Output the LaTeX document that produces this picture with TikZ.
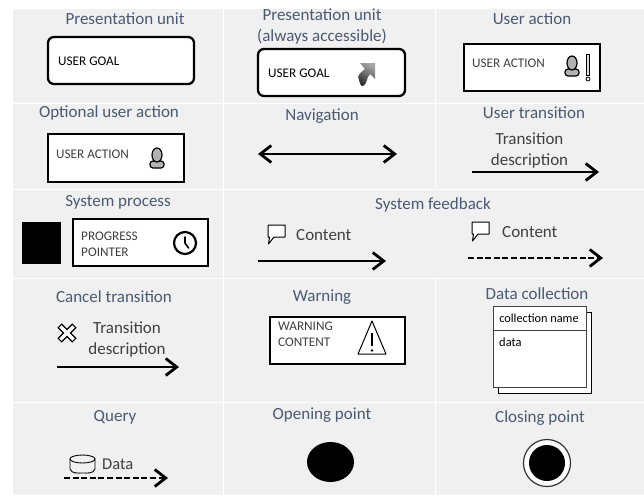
\documentclass[tikz,border=0pt]{standalone}
\usepackage{fontspec}
\setmainfont{Carlito}
\usetikzlibrary{arrows.meta}
\usetikzlibrary{positioning}
\usetikzlibrary{shapes.geometric}
\definecolor{cellgray}{HTML}{F0F0F0}
\definecolor{titleblue}{HTML}{4A5A72}
\definecolor{labelgray}{HTML}{404040}
\tikzset{
	person/.pic = {
			\draw[line width=1.2pt, fill=gray!60, rounded corners=3pt] (-7,10) -- (7,10) -- (7,3) -- (-7,3) -- cycle;
			\draw[line width=1.2pt, fill=gray!60] (0,-3) ellipse (5 and 7);
			},
	bubble/.pic = {
			\draw[line width=1pt, fill=white, line join=round] (0,0) -- (17,0) -- (17,12) -- (6,12) -- (0.5,19) -- (1.5,12) -- (0,12) -- cycle;
			}
		}
\begin{document}
\begin{tikzpicture}
		[x=1pt, y=-1pt,
		> = {Straight Barb[length=11pt,width=17pt,line width=2.8pt]},
		cell/.style = {fill=cellgray, draw=white, line width=1pt},
		heading/.style = {text=titleblue, font=\fontsize{17}{21}\selectfont, inner sep=0pt, align=center},
		unit/.style = {draw, fill=white, line width=2.3pt, rounded corners=6pt},
		actionbox/.style = {draw, fill=white, line width=2.4pt},
		boxlabel/.style = {text=labelgray, font=\fontsize{13.2}{16}\selectfont, inner sep=0pt, anchor=west, align=left},
		desc/.style = {text=labelgray, font=\fontsize{17}{21}\selectfont, inner sep=0pt, align=center},
		flow/.style = {->, line width=2.6pt},
		dashflow/.style = {->, line width=2.6pt, dash pattern=on 6pt off 2.6pt}
		]
		\useasboundingbox (0,0) rectangle (644,495);

		% grid of cells
		\foreach \xa/\xb/\ya/\yb in {12/223/9/103, 223/435/9/103, 435/644/9/103,
			12/223/103/189, 223/435/103/189, 435/644/103/189,
			12/223/189/278, 223/644/189/278,
			12/223/278/402, 223/435/278/402, 435/644/278/402,
			12/223/402/495, 223/435/402/495, 435/644/402/495}
			\draw[cell] (\xa,\ya) rectangle (\xb,\yb);

		% first row
		\node[heading] (unitTitle) at (125,19) {Presentation unit};
		\draw[unit] (48,37) rectangle (194,84);
		\node[boxlabel, text=black] (unitGoal) at (58,61) {USER GOAL};

		\node[heading] (accessTitle) at (322,26.5) {Presentation unit\\(always accessible)};
		\draw[unit] (258,49) rectangle (405,96);
		\node[boxlabel, text=black] (accessGoal) at (268,73) {USER GOAL};
		\shade[top color=gray!70, bottom color=black!85, shading angle=-30]
			(375,63) -- (375,79) -- (370,74) to[out=225,in=30] (363,86) to[out=200,in=90] (358,77) to[out=70,in=220] (365,69) -- (360,63) -- cycle;

		\node[heading] (actionTitle) at (532,19) {User action};
		\draw[actionbox] (464,44) rectangle (600,91);
		\node[boxlabel] (actionLabel) at (472,63) {USER ACTION};
		\pic at (572,66) {person};
		\draw[line width=0.8pt, fill=gray!25] (586.5,54) rectangle (589.5,75);
		\draw[line width=0.8pt, fill=white] (588,79) circle (2);

		% second row
		\node[heading] (optionalTitle) at (109,113) {Optional user action};
		\draw[actionbox] (48,134) rectangle (184,182);
		\node[boxlabel] (optionalLabel) at (56,154) {USER ACTION};
		\pic at (157,158) {person};

		\node[heading] (navTitle) at (322,116) {Navigation};
		\coordinate (navA) at (258,154);
		\coordinate (navB) at (397,154);
		\draw[<->, line width=2.6pt] (navA) -- (navB);

		\node[heading] (transTitle) at (534,113) {User transition};
		\node[desc] (transText) at (529.5,150.5) {Transition\\description};
		\coordinate (transA) at (472,172);
		\coordinate (transB) at (599,172);
		\draw[flow] (transA) -- (transB);

		% third row
		\node[heading] (processTitle) at (118,202) {System process};
		\node[fill=black, minimum width=39pt, minimum height=42pt, inner sep=0pt] (processBlock) at (41.5,243) {};
		\draw[actionbox] (73,219) rectangle (208,266);
		\node[boxlabel] (processLabel) at (81,244) {PROGRESS\\POINTER};
		\node[draw, fill=white, circle, line width=2.2pt, minimum size=22pt, inner sep=0pt] (clockFace) at (185,243) {};
		\draw[line width=1.6pt, line cap=round] (clockFace.center) ++(0,-6) -- (clockFace.center) -- ++(3.5,5);

		\node[heading] (feedbackTitle) at (433,205) {System feedback};
		\pic at (268,225) {bubble};
		\node[desc, anchor=west] (feedbackA) at (296,235) {Content};
		\coordinate (feedA) at (258,261);
		\coordinate (feedB) at (386,261);
		\draw[flow] (feedA) -- (feedB);
		\pic at (472,222) {bubble};
		\node[desc, anchor=west] (feedbackB) at (502,232) {Content};
		\coordinate (feedC) at (468,258);
		\coordinate (feedD) at (603,258);
		\draw[dashflow] (feedC) -- (feedD);

		% fourth row
		\node[heading] (cancelTitle) at (114,297) {Cancel transition};
		\draw[line width=1.2pt, fill=white, rotate around={45:(67,333)}] (64.5,323) -- (69.5,323) -- (69.5,330.5) -- (77,330.5) -- (77,335.5) -- (69.5,335.5) -- (69.5,343) -- (64.5,343) -- (64.5,335.5) -- (57,335.5) -- (57,330.5) -- (64.5,330.5) -- cycle;
		\node[desc] (cancelText) at (127,339) {Transition\\description};
		\coordinate (cancelA) at (57,367);
		\coordinate (cancelB) at (179,367);
		\draw[flow] (cancelA) -- (cancelB);

		\node[heading] (warnTitle) at (322,297) {Warning};
		\draw[actionbox] (270,317) rectangle (405,364);
		\node[boxlabel] (warnLabel) at (278,334) {WARNING\\CONTENT};
		\draw[line width=1pt, line join=round] (372,321) -- (386,354) -- (358,354) -- cycle;
		\draw[line width=1.8pt] (372,333) -- (372,346);
		\fill (372,350.5) circle (1.4);

		\node[heading] (dataTitle) at (537,294) {Data collection};
		\draw[fill=white, line width=1pt] (498,312) rectangle (591,393);
		\node[draw=black!75, fill=white, line width=1pt, minimum width=93pt, minimum height=81pt, inner sep=0pt] (dataSheet) at (540,346.5) {};
		\draw[black!75, line width=1pt] (493,330) -- (587,330);
		\node[boxlabel, text=black, anchor=center, font=\fontsize{12.3}{14}\selectfont] (dataName) at (539,318) {collection name};
		\node[boxlabel, text=black, font=\fontsize{12.5}{14}\selectfont] (dataBody) at (499,342) {data};

		% last row
		\node[heading] (queryTitle) at (115,417) {Query};
		\draw[line width=0.9pt, fill=cellgray] (70,459) -- (70,469) to[out=-70,in=180] (82.5,473) to[out=0,in=-110] (95,469) -- (95,459);
		\draw[line width=0.9pt, fill=cellgray] (82.5,459) ellipse (12.5 and 4);
		\node[desc, font=\fontsize{16.5}{18}\selectfont, anchor=west] (queryText) at (102,464) {Data};
		\coordinate (queryA) at (64,478);
		\coordinate (queryB) at (168,478);
		\draw[dashflow] (queryA) -- (queryB);

		\node[heading] (openTitle) at (322,415) {Opening point};
		\node[fill=black, ellipse, minimum width=47pt, minimum height=40pt, inner sep=0pt] (openDot) at (330.5,462) {};

		\node[heading] (closeTitle) at (540,418) {Closing point};
		\node[draw=black!80, fill=white, circle, line width=1.2pt, minimum size=47pt, inner sep=0pt] (closeRing) at (547,463) {};
		\node[fill=black, circle, minimum size=36pt, inner sep=0pt] (closeDot) at (closeRing.center) {};
	\end{tikzpicture}
\end{document}
